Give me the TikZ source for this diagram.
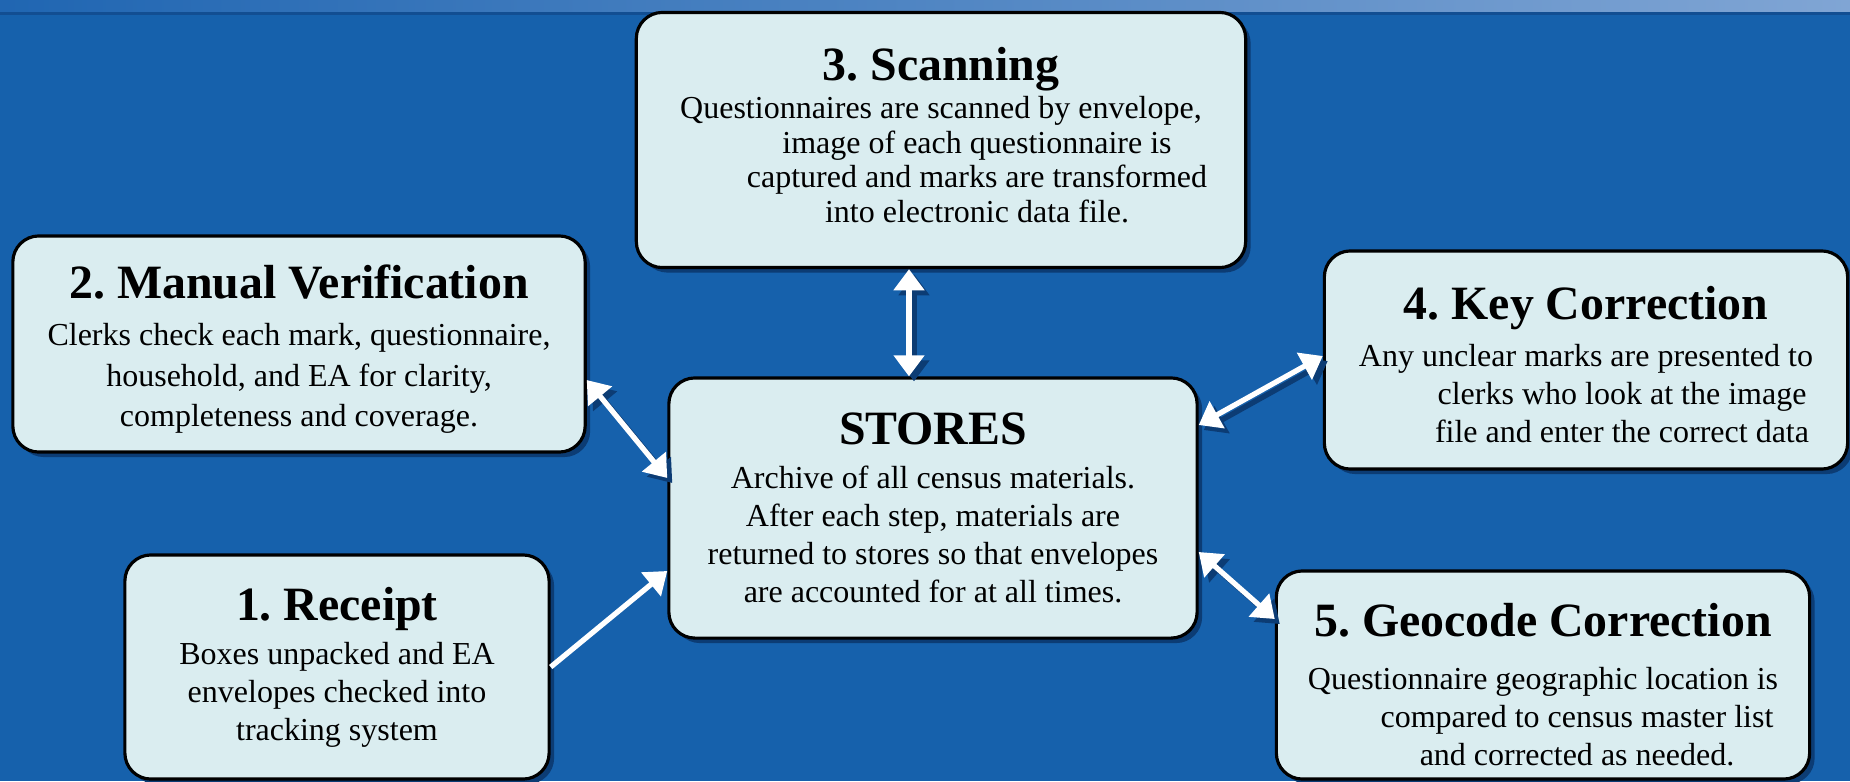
\documentclass[tikz,border=0pt]{standalone}
\usepackage{fontspec}
\setmainfont{Liberation Serif}
\usetikzlibrary{arrows.meta,calc,shadows}
\frenchspacing

\definecolor{sfondo}{RGB}{22,97,172}
\definecolor{ombra}{RGB}{12,60,116}
\definecolor{riquadro}{RGB}{218,237,240}
\definecolor{strisciaA}{RGB}{32,102,178}
\definecolor{strisciaB}{RGB}{128,165,212}
\definecolor{bordino}{RGB}{18,78,146}

\tikzset{
  stepbox/.style={draw=black, line width=0.9pt, fill=riquadro, rounded corners=0.26cm,
    align=center, inner sep=0pt, font=\fontsize{9.1}{10.8}\selectfont,
    drop shadow={shadow xshift=0.05cm, shadow yshift=-0.05cm, fill=ombra, opacity=1}},
  freccia/.style={white, line width=1.5pt},
  ombrafreccia/.style={ombra, line width=1.5pt,
    transform canvas={xshift=0.05cm, yshift=-0.05cm}},
  punta/.tip={Triangle[length=6pt,width=8.5pt]}
}
\newcommand{\titolo}[2][1.8pt]{{\fontsize{13.6}{16}\selectfont\bfseries #2}\\[#1]}

\begin{document}
\begin{tikzpicture}[x=0.01cm, y=-0.01cm]

% Sfondo
\useasboundingbox (0,0) rectangle (1850,781);
\fill[sfondo] (0,0) rectangle (1850,781);
\shade[left color=strisciaA, right color=strisciaB] (0,0) rectangle (1850,12);
\fill[bordino] (0,12) rectangle (1850,15);

% Riquadri
\node[stepbox, minimum width=6.09cm, minimum height=2.55cm,
      font=\fontsize{9.1}{9.8}\selectfont] (scan) at (941,140)
  {\titolo[1.2pt]{3. Scanning}Questionnaires are scanned by envelope,\\
   \hspace*{0.72cm}image of each questionnaire is\\
   \hspace*{0.72cm}captured and marks are transformed\\
   \hspace*{0.72cm}into electronic data file.\rule[-3pt]{0pt}{1pt}};
\node[stepbox, minimum width=5.72cm, minimum height=2.16cm,
      font=\fontsize{9.1}{11.6}\selectfont] (manual) at (299,344)
  {\titolo{\rule{0pt}{12.5pt}2. Manual Verification}Clerks check each mark, questionnaire,\\
   household, and EA for clarity,\\ completeness and coverage.};
\node[stepbox, minimum width=5.28cm, minimum height=2.60cm] (stores) at (933,508)
  {\titolo{STORES}Archive of all census materials.\\
   After each step, materials are\\
   returned to stores so that envelopes\\
   are accounted for at all times.};
\node[stepbox, minimum width=5.23cm, minimum height=2.18cm] (key) at (1586,360)
  {\titolo[2.6pt]{\rule{0pt}{12pt}4. Key Correction}Any unclear marks are presented to\\
   \hspace*{0.72cm}clerks who look at the image\\
   \hspace*{0.72cm}file and enter the correct data};
\node[stepbox, minimum width=4.24cm, minimum height=2.24cm] (receipt) at (337,667)
  {\titolo{1. Receipt}Boxes unpacked and EA\\ envelopes checked into\\ tracking system};
\node[stepbox, minimum width=5.33cm, minimum height=2.08cm] (geo) at (1543,675)
  {\titolo[4.4pt]{\rule{0pt}{15pt}5. Geocode Correction}Questionnaire geographic location is\\
   \hspace*{0.68cm}compared to census master list\\
   \hspace*{0.68cm}and corrected as needed.};

% Frecce (ombra e poi bianco)
\foreach \stile in {ombrafreccia, freccia} {
  \draw[\stile, punta-punta] ($(manual.east)+(0,36)$) -- ($(stores.west)+(0,-30)$);
  \draw[\stile, punta-punta] ($(scan.south)+(-32,0)$) -- ($(stores.north)+(-24,0)$);
  \draw[\stile, punta-punta] ($(stores.east)+(0,-83)$) -- ($(key.west)+(0,-4)$);
  \draw[\stile, punta-punta] ($(stores.east)+(0,44)$) -- ($(geo.west)+(0,-56)$);
}
\draw[freccia, -punta] (receipt.east) -- ($(stores.west)+(0,63)$);

\end{tikzpicture}
\end{document}
